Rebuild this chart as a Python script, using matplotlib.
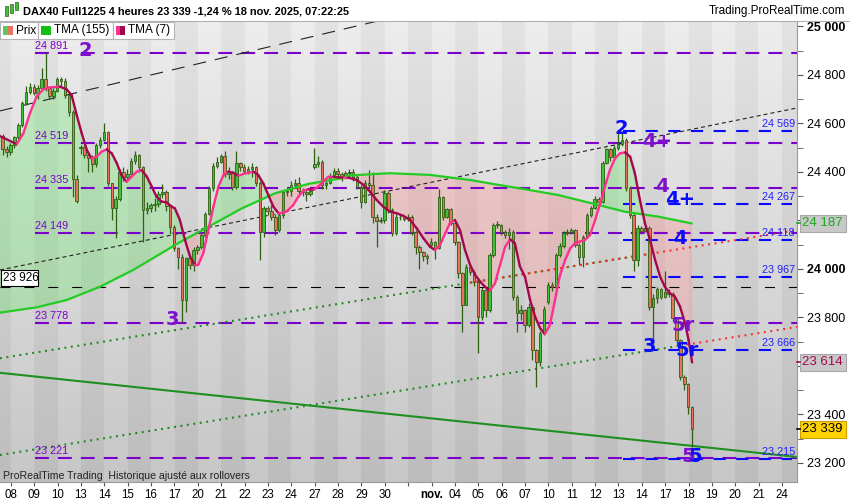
import numpy as np
import matplotlib
matplotlib.use('Agg')
import matplotlib.pyplot as plt
import matplotlib.transforms as mtransforms
from matplotlib.collections import LineCollection
from matplotlib.patches import Rectangle

plt.rcParams['font.family'] = ['Liberation Sans', 'DejaVu Sans']
plt.rcParams['lines.scale_dashes'] = False

# ---------------- data (4h candles, index 0 = first visible candle) -------------
first_open = 24548
gap_opens = {20: 24496, 80: 24421, 110: 24098, 140: 23864}
closes = [24492, 24480, 24510, 24542, 24593, 24682, 24730, 24751, 24726, 24744,
          24781, 24744, 24712, 24735, 24781, 24776, 24716, 24648, 24370, 24279,
          24502, 24470, 24455, 24430, 24510, 24530, 24565, 24352, 24250, 24286,
          24400, 24380, 24392, 24444, 24470, 24420, 24242, 24250, 24262, 24268,
          24310, 24318, 24260, 24172, 24085, 24050, 23871, 24043, 24016, 24077,
          24090, 24139, 24226, 24332, 24424, 24439, 24465, 24391, 24400, 24338,
          24435, 24421, 24405, 24412, 24420, 24352, 24153, 24249, 24240, 24215,
          24160, 24221, 24318, 24322, 24345, 24352, 24322, 24318, 24310, 24320,
          24434, 24441, 24345, 24355, 24380, 24405, 24390, 24380, 24395, 24400,
          24380, 24339, 24277, 24352, 24345, 24215, 24198, 24202, 24311, 24243,
          24146, 24215, 24212, 24205, 24212, 24153, 24091, 24070, 24053, 24043,
          24110, 24085, 24297, 24215, 24245, 24187, 24112, 23981, 23851, 24009,
          23988, 23947, 23802, 23912, 23830, 24057, 24180, 24181, 24150, 24140,
          24150, 23885, 23819, 23830, 23768, 23843, 23665, 23617, 23734, 23833,
          23933, 23926, 24057, 24094, 24146, 24150, 24160, 24098, 24050, 24132,
          24222, 24249, 24286, 24275, 24435, 24492, 24460, 24500, 24514, 24530,
          24332, 24222, 24036, 24167, 24155, 24170, 23841, 23878, 23915, 23885,
          23905, 23895, 23796, 23706, 23555, 23525, 23431, 23339]
highs = [24555, 24505, 24518, 24548, 24600, 24690, 24752, 24765, 24760, 24758,
         24826, 24888, 24752, 24745, 24790, 24790, 24785, 24722, 24655, 24385,
         24510, 24508, 24480, 24470, 24520, 24545, 24600, 24570, 24355, 24300,
         24410, 24420, 24410, 24455, 24485, 24475, 24425, 24275, 24270, 24290,
         24320, 24350, 24325, 24265, 24180, 24090, 24060, 24050, 24060, 24090,
         24100, 24150, 24235, 24340, 24435, 24460, 24475, 24485, 24420, 24405,
         24484, 24440, 24430, 24425, 24435, 24425, 24360, 24260, 24260, 24265,
         24225, 24235, 24325, 24330, 24360, 24370, 24380, 24335, 24330, 24330,
         24497, 24465, 24450, 24365, 24395, 24415, 24415, 24400, 24405, 24412,
         24410, 24385, 24345, 24365, 24407, 24400, 24225, 24215, 24325, 24320,
         24250, 24225, 24225, 24218, 24225, 24220, 24160, 24100, 24075, 24060,
         24125, 24115, 24330, 24300, 24250, 24250, 24190, 24115, 23985, 24020,
         24015, 23995, 23955, 23925, 23920, 24065, 24190, 24195, 24185, 24160,
         24168, 24160, 23890, 23850, 23835, 23860, 23850, 23670, 23745, 23845,
         23945, 23945, 24065, 24105, 24155, 24165, 24170, 24165, 24105, 24140,
         24230, 24260, 24300, 24295, 24445, 24500, 24500, 24510, 24560, 24558,
         24540, 24340, 24230, 24180, 24175, 24180, 24175, 23895, 23925, 23920,
         23990, 23915, 23905, 23800, 23710, 23560, 23530, 23435]
lows = [24470, 24462, 24470, 24500, 24535, 24585, 24675, 24720, 24715, 24700,
        24735, 24735, 24700, 24700, 24730, 24755, 24705, 24630, 24297, 24270,
        24475, 24455, 24400, 24400, 24420, 24500, 24525, 24340, 24200, 24125,
        24280, 24360, 24370, 24385, 24430, 24400, 24112, 24225, 24235, 24240,
        24255, 24290, 24240, 24145, 24075, 24000, 23780, 23823, 24000, 23990,
        24060, 24080, 24130, 24220, 24320, 24415, 24435, 24380, 24370, 24325,
        24330, 24405, 24395, 24390, 24380, 24340, 24036, 24130, 24220, 24200,
        24140, 24150, 24210, 24300, 24300, 24335, 24310, 24300, 24280, 24300,
        24410, 24420, 24330, 24330, 24350, 24375, 24375, 24360, 24375, 24380,
        24360, 24330, 24250, 24270, 24330, 24190, 24091, 24190, 24190, 24230,
        24135, 24140, 24200, 24195, 24195, 24140, 24060, 24000, 24030, 24020,
        24085, 24040, 24080, 24200, 24210, 24180, 24100, 23960, 23741, 23850,
        23975, 23930, 23651, 23790, 23800, 23820, 24050, 24170, 24140, 24125,
        24080, 23870, 23741, 23790, 23740, 23760, 23625, 23514, 23600, 23725,
        23855, 23910, 23915, 24050, 24085, 24140, 24145, 24090, 24020, 24009,
        24125, 24215, 24245, 24265, 24270, 24430, 24445, 24455, 24490, 24505,
        24320, 24210, 23990, 24010, 24145, 24150, 23830, 23666, 23860, 23875,
        23880, 23885, 23780, 23680, 23540, 23500, 23400, 23266]

# TMA (7) (candle index, value)
tma7_pos = [-0.7, 3.6, 5.3, 7.0, 8.7, 10.4, 12.1, 14.7, 16.4, 17.7, 19.0, 20.3, 21.6, 22.8,
            24.1, 25.4, 26.7, 28.0, 29.3, 30.5, 31.8, 33.1, 34.4, 35.7, 37.0, 38.3, 39.5,
            40.8, 42.1, 43.4, 44.2, 45.5, 46.8, 48.1, 49.4, 50.2, 51.5, 52.8, 54.1, 55.4,
            56.7, 57.9, 59.2, 60.5, 61.8, 63.1, 64.4, 65.6, 66.9, 68.2, 69.5, 70.8, 72.1,
            73.3, 74.6, 75.9, 77.2, 78.5, 79.8, 81.0, 82.3, 83.6, 84.9, 86.2, 87.5, 88.7,
            90.9, 92.6, 94.3, 96.0, 97.7, 99.4, 101.1, 102.9, 104.6, 106.3, 108.0, 109.7,
            111.0, 112.3, 113.6, 114.8, 116.1, 117.4, 118.7, 120.0, 121.3, 122.6, 123.8,
            125.1, 126.4, 127.7, 129.0, 130.3, 131.5, 132.8, 134.1, 135.4, 136.7, 138.0,
            139.2, 140.5, 141.8, 143.1, 144.4, 145.7, 146.9, 148.2, 149.5, 150.8, 152.1,
            153.4, 154.6, 155.9, 157.2, 158.5, 159.8, 161.1, 162.3, 163.6, 164.9, 166.2,
            167.5, 168.8, 170.0, 171.3, 172.6, 173.9, 175.2, 176.1, 177.0]
tma7_val = [24547, 24514, 24558, 24641, 24710, 24740, 24748, 24751, 24740, 24716, 24634, 24558,
            24490, 24455, 24462, 24483, 24492, 24476, 24435, 24386, 24359, 24380, 24400, 24407,
            24380, 24338, 24297, 24277, 24274, 24256, 24249, 24201, 24119, 24050, 24016, 24016,
            24064, 24160, 24256, 24339, 24387, 24400, 24396, 24383, 24391, 24396, 24400, 24387,
            24352, 24304, 24256, 24229, 24231, 24242, 24263, 24297, 24322, 24328, 24325, 24339,
            24359, 24380, 24380, 24377, 24376, 24376, 24366, 24346, 24318, 24284, 24256, 24236,
            24229, 24218, 24201, 24167, 24126, 24091, 24077, 24098, 24146, 24187, 24201, 24160,
            24077, 24016, 23974, 23947, 23926, 23910, 23940, 24016, 24091, 24121, 24105, 24009,
            23967, 23871, 23802, 23754, 23731, 23768, 23871, 23974, 24036, 24084, 24105, 24112,
            24119, 24139, 24201, 24270, 24339, 24407, 24455, 24476, 24480, 24462, 24394, 24284,
            24187, 24119, 24036, 23967, 23926, 23899, 23885, 23844, 23775, 23706, 23614]
# TMA (155)
tma155_pos = [-0.7, 8.7, 16.4, 25.0, 33.5, 42.1, 44.2, 52.8, 61.4, 69.9, 78.5, 87.0, 89.2,
              99.4, 109.7, 120.0, 130.2, 134.1, 142.6, 151.2, 159.8, 168.3, 176.9]
tma155_val = [23819, 23841, 23871, 23926, 23995, 24077, 24098, 24173, 24249, 24311, 24350,
              24373, 24385, 24394, 24387, 24366, 24338, 24328, 24304, 24270, 24235, 24215, 24187]

day_labels = ['08', '09', '10', '13', '14', '15', '16', '17', '20', '21', '22', '23', '24',
              '27', '28', '29', '30', '', 'nov.', '04', '05', '06', '07', '10', '11', '12',
              '13', '14', '17', '18', '19', '20', '21', '24']

purple_levels = [24891, 24519, 24335, 24149, 23778, 23221]
blue_levels = [24569, 24267, 24118, 23967, 23666, 23215]
black_level = 23926

purple_marks = [('2', 21.1, 24900), ('3', 43.7, 23789), ('4+', 167.9, 24524),
                ('4', 169.2, 24338), ('5r', 174.7, 23768), ('5', 176.0, 23225)]
blue_marks = [('2', 158.9, 24579), ('4+', 173.9, 24284), ('4', 173.9, 24126),
              ('3', 166.0, 23679), ('5r', 175.6, 23665), ('5', 177.7, 23225)]

# trend lines: (x0, y0, x1, y1) in candle index / price
black_long = (-0.7, 24651, 203.9, 25433)
black_fine = (-0.7, 23995, 203.9, 24663)
chan_up = (-0.7, 23631, 203.9, 24159)
chan_dn = (-0.7, 23232, 203.9, 23760)
green_solid = (-0.7, 23571, 203.9, 23224)

# ---------------- figure ----------------
W, H = 850, 500
fig = plt.figure(figsize=(8.5, 5.0), dpi=100)
fig.patch.set_facecolor('white')
ax_l, ax_r, ax_t, ax_b = 0, 797, 21, 482
ax = fig.add_axes([ax_l / W, 1 - ax_b / H, (ax_r - ax_l) / W, (ax_b - ax_t) / H])
xmin, xmax = -0.69, 203.93
ymin, ymax = 23120.7, 25021.7
ax.set_xlim(xmin, xmax)
ax.set_ylim(ymin, ymax)
day_off = 2.1

# background: day stripes with vertical gradient
cols = np.linspace(xmin, xmax, 2000)
day_idx = np.floor((cols - day_off) / 6).astype(int)
light = (day_idx % 2 == 0)
rows = np.linspace(0, 1, 300)[:, None]  # 0 top -> 1 bottom
top_l, top_d, bot_l, bot_d = 0.93, 0.89, 0.78, 0.74
val = np.where(light[None, :], top_l + (bot_l - top_l) * rows, top_d + (bot_d - top_d) * rows)
img = np.dstack([val, val, val])
ax.imshow(img, extent=[xmin, xmax, ymin, ymax], aspect='auto', zorder=0, interpolation='nearest')

# fill between TMAs
grid = np.linspace(tma7_pos[0], tma7_pos[-1], 2000)
t7 = np.interp(grid, tma7_pos, tma7_val)
t155 = np.interp(grid, tma155_pos, tma155_val)
ax.fill_between(grid, t7, t155, where=t7 >= t155, color='#5fe85f', alpha=0.3, lw=0, zorder=1, interpolate=True)
ax.fill_between(grid, t7, t155, where=t7 < t155, color='#ff8c8c', alpha=0.32, lw=0, zorder=1, interpolate=True)

# horizontal levels
for lv in purple_levels:
    ax.plot([8.3, xmax], [lv, lv], color='#7c00cc', lw=1.5, ls=(0, (10, 6.5)), zorder=2)
    ax.text(8.3, lv, f"{lv:,}".replace(',', ' '), color='#7c00cc', fontsize=7.8,
            ha='left', va='bottom', zorder=6,
            transform=mtransforms.offset_copy(ax.transData, fig=fig, x=0, y=1.5, units='points'))
for lv in blue_levels:
    ax.plot([159.3, 202.6], [lv, lv], color='#0a0aff', lw=1.5, ls=(0, (8.8, 7.5)), zorder=2)
    ax.text(203.4, lv, f"{lv:,}".replace(',', ' '), color='#2020ff', fontsize=7.8,
            ha='right', va='bottom', zorder=6,
            transform=mtransforms.offset_copy(ax.transData, fig=fig, x=0, y=1.5, units='points'))
ax.plot([xmin, xmax], [black_level, black_level], color='black', lw=0.8, ls=(0, (7.2, 10)), zorder=2)

# sloped lines
def seg(t, **kw):
    ax.plot([t[0], t[2]], [t[1], t[3]], **kw)

def at(t, x):
    return t[1] + (t[3] - t[1]) * (x - t[0]) / (t[2] - t[0])

seg(black_long, color='#222222', lw=0.8, ls=(0, (9.4, 6.5)), zorder=2)
seg(black_fine, color='#222222', lw=0.8, ls=(0, (2.9, 2.2)), zorder=2)
seg(green_solid, color='#1f8f1f', lw=1.5, zorder=2)
dot = (0, (1.4, 3.3))
ax.plot([chan_up[0], 166.2], [chan_up[1], at(chan_up, 166.2)], color='#1d8a1d', lw=1.5, ls=dot, zorder=2)
ax.plot([117.4, xmax], [at(chan_up, 117.4), at(chan_up, xmax)], color='#ff2a2a', lw=1.5, ls=(2.3, (1.4, 3.3)), zorder=2)
ax.plot([chan_dn[0], 173.9], [chan_dn[1], at(chan_dn, 173.9)], color='#1d8a1d', lw=1.5, ls=dot, zorder=2)
ax.plot([173.9, xmax], [at(chan_dn, 173.9), at(chan_dn, xmax)], color='#ff2a2a', lw=1.5, ls=dot, zorder=2)

# TMA 155
ax.plot(tma155_pos, tma155_val, color='#22cc22', lw=1.6, zorder=4, solid_capstyle='round')

# candles
n = len(closes)
idx = np.arange(n)
opens = [first_open] + closes[:-1]
for k, v in gap_opens.items():
    opens[k] = v
opens = np.array(opens, float)
cl = np.array(closes, float)
ax.vlines(idx, lows, highs, color='#2e5f12', lw=0.9, zorder=3)
up = cl >= opens
bot = np.minimum(opens, cl)
hgt = np.maximum(np.abs(cl - opens), 3)
ax.bar(idx[up], hgt[up], bottom=bot[up], width=0.64, color='#3fc23a', edgecolor='#2e5f12', lw=0.6, zorder=3)
ax.bar(idx[~up], hgt[~up], bottom=bot[~up], width=0.64, color='#e9735f', edgecolor='#2e5f12', lw=0.6, zorder=3)

# TMA 7 coloured by direction
pts = np.column_stack([tma7_pos, tma7_val])
segs = np.stack([pts[:-1], pts[1:]], axis=1)
colors = ['#ff2f8e' if b[1] >= a[1] else '#a3084e' for a, b in zip(pts[:-1], pts[1:])]
ax.add_collection(LineCollection(segs, colors=colors, linewidths=1.7, zorder=5, capstyle='round'))

# wave labels
for txt, x, y in purple_marks:
    ax.text(x, y, txt, color='#7c10cc', fontsize=14, fontweight='bold', ha='center', va='center', zorder=7,
            family=['DejaVu Sans'])
for txt, x, y in blue_marks:
    ax.text(x, y, txt, color='#0a0aff', fontsize=14, fontweight='bold', ha='center', va='center', zorder=7,
            family=['DejaVu Sans'])

# axes styling
for s in ['top', 'left']:
    ax.spines[s].set_visible(False)
ax.spines['right'].set_color('#9a9a9a')
ax.spines['bottom'].set_color('#9a9a9a')
ax.yaxis.tick_right()
yt = list(range(23200, 25001, 200))
hidden = (24200, 23600)  # covered by the indicator price boxes
ax.set_yticks(yt)
ax.set_yticklabels(['' if v in hidden else f"{v:,}".replace(',', ' ') for v in yt])
ax.set_yticks(list(range(23200, 25001, 100)), minor=True)
ax.tick_params(axis='y', which='both', length=4, color='#555555', labelsize=9, pad=3)
for lab, v in zip(ax.get_yticklabels(), yt):
    if v in (25000, 24000):
        lab.set_fontweight('bold')
xt = [6 * d + day_off for d in range(len(day_labels))]
ax.set_xticks(xt)
ax.set_xticklabels(day_labels)
ax.tick_params(axis='x', length=3, color='#555555', labelsize=8.3, pad=2)
for lab in ax.get_xticklabels():
    if lab.get_text() == 'nov.':
        lab.set_fontweight('bold')

# price boxes on the right axis
def pbox(price, txt, fc, tc, ec):
    yp = ax.transData.transform((0, price))[1]
    yf = yp / (H)
    fig.patches.append(Rectangle(((ax_r + 3) / W, yf - 8.5 / H), 46 / W, 17 / H, transform=fig.transFigure,
                                 facecolor=fc, edgecolor=ec, lw=0.8, zorder=10))
    fig.text((ax_r + 5) / W, yf, txt, color=tc, fontsize=9.5, ha='left', va='center', zorder=11)
    fig.lines.append(plt.Line2D([ax_r / W, (ax_r + 3) / W], [yf, yf], transform=fig.transFigure,
                                color=tc, lw=1.2, zorder=11))

pbox(24187, '24 187', '#c8c8c8', '#1fa51f', '#a8a8a8')
pbox(23614, '23 614', '#c8c8c8', '#a3084e', '#a8a8a8')
pbox(23339, '23 339', '#ffd200', 'black', '#c8a000')

# left level box
yb = ax.transData.transform((0, black_level))[1] / H
fig.patches.append(Rectangle((1 / W, yb + 0.5 / H), 37 / W, 16 / H, transform=fig.transFigure,
                             facecolor='white', edgecolor='black', lw=0.8, zorder=10))
fig.text(3 / W, yb + 8.5 / H, '23 926', fontsize=8.5, ha='left', va='center', zorder=11)

# header
fig.lines.append(plt.Line2D([0, 1], [1 - 20.5 / H, 1 - 20.5 / H], transform=fig.transFigure, color='#b0b0b0', lw=0.8))
fig.text(23 / W, 1 - 11 / H, 'DAX40 Full1225 4 heures 23 339 -1,24 % 18 nov. 2025, 07:22:25',
         fontsize=7.9, fontweight='bold', ha='left', va='center')
fig.text(845 / W, 1 - 11 / H, 'Trading.ProRealTime.com', fontsize=8.5, ha='right', va='center')
# small candle icon in header
for xx, y0, y1, c in [(6, 6, 16, '#3fc23a'), (11, 4, 13, '#3fc23a'), (16, 2, 10, '#3fc23a')]:
    fig.patches.append(Rectangle(((xx - 1.5) / W, 1 - y1 / H), 3 / W, (y1 - y0) / H, transform=fig.transFigure,
                                 facecolor=c, edgecolor='#2e5f12', lw=0.5))

# legend boxes
def legbox(x0, x1, label, c1, c2):
    fig.patches.append(Rectangle((x0 / W, 1 - 39 / H), (x1 - x0) / W, 16.5 / H, transform=fig.transFigure,
                                 facecolor='white', edgecolor='#b4b4b4', lw=0.8, zorder=10))
    fig.patches.append(Rectangle(((x0 + 3) / W, 1 - 35 / H), 5 / W, 9 / H, transform=fig.transFigure,
                                 facecolor=c1, lw=0, zorder=11))
    fig.patches.append(Rectangle(((x0 + 8) / W, 1 - 35 / H), 5 / W, 9 / H, transform=fig.transFigure,
                                 facecolor=c2, lw=0, zorder=11))
    fig.text((x0 + 16) / W, 1 - 30.5 / H, label, fontsize=8.5, ha='left', va='center', zorder=12)

legbox(0, 37.5, 'Prix', '#5cc85c', '#e9735f')
legbox(37.5, 112.5, 'TMA (155)', '#12c012', '#12c012')
legbox(112.5, 173.5, 'TMA (7)', '#ff2f8e', '#a3084e')

fig.text(3 / W, 1 - 476 / H, 'ProRealTime Trading  Historique ajusté aux rollovers', fontsize=7.6,
         ha='left', va='center', color='#222222', zorder=12)

fig.savefig('out.png', dpi=100)
